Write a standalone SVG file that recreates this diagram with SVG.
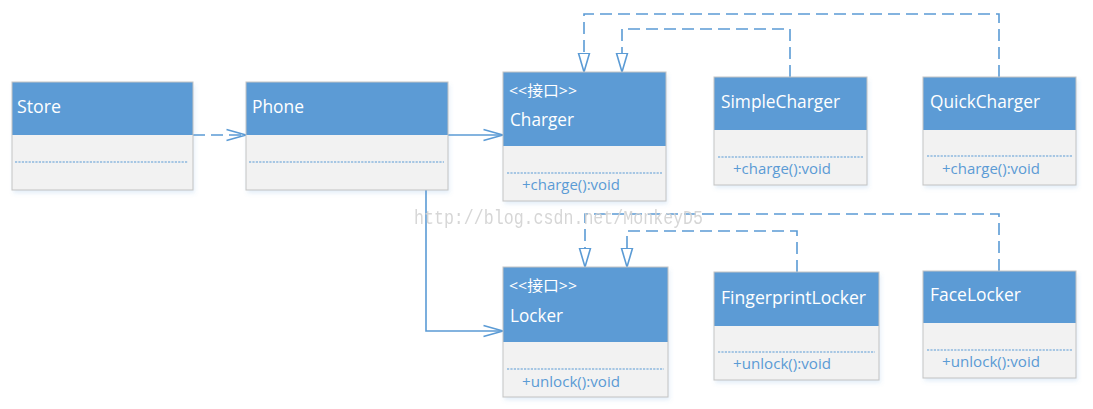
<svg xmlns="http://www.w3.org/2000/svg" width="1093" height="409" viewBox="0 0 1093 409">
<style>
  .hdr { fill: #5B9BD5; }
  .body { fill: #F2F2F2; }
  .frame { fill: none; stroke: #C3C3C3; stroke-width: 1; }
  .name { font-family: "Open Sans", "Noto Sans", "Noto Sans CJK SC", sans-serif; font-size: 18px; fill: #FFFFFF; }
  .stereo { font-family: "Open Sans", "Noto Sans CJK SC", sans-serif; font-size: 15px; fill: #FFFFFF; }
  .method { font-family: "Open Sans", "Noto Sans", sans-serif; font-size: 15px; fill: #5B9BD5; }
  .div { stroke: #5B9BD5; stroke-width: 1; stroke-dasharray: 2.2 1.2; fill: none; }
  .real { stroke: #5B9BD5; stroke-width: 1.6; fill: none; stroke-dasharray: 12 6; marker-end: url(#tri); }
  .dep { stroke: #5B9BD5; stroke-width: 1.6; fill: none; stroke-dasharray: 12 6; marker-end: url(#open); }
  .assoc { stroke: #5B9BD5; stroke-width: 1.6; fill: none; marker-end: url(#open); }
  .wm { font-family: "Liberation Mono", monospace; font-size: 21px; fill: #D2D2D2; opacity: 0.9; }
</style>
<defs>
  <filter id="sh" x="-10%" y="-10%" width="125%" height="130%">
    <feDropShadow dx="1.5" dy="3" stdDeviation="2" flood-color="#5B9BD5" flood-opacity="0.18"/>
  </filter>
  <marker id="tri" markerUnits="userSpaceOnUse" markerWidth="22" markerHeight="14" refX="19.5" refY="6" orient="auto" viewBox="0 0 22 12">
    <path d="M0.8,0.5 L19.5,6 L0.8,11.5 Z" fill="#FFFFFF" stroke="#5B9BD5" stroke-width="1.6" stroke-linejoin="miter"/>
  </marker>
  <marker id="open" markerUnits="userSpaceOnUse" markerWidth="22" markerHeight="14" refX="20" refY="6" orient="auto" viewBox="0 0 22 12">
    <path d="M0.5,0.5 L20,6 L0.5,11.5" fill="none" stroke="#5B9BD5" stroke-width="1.6"/>
  </marker>
</defs>
<rect width="1093" height="409" fill="#FFFFFF"/>

<g id="connectors">
  <path class="real" d="M999,77 V14 H584 V72"/>
  <path class="real" d="M790,77 V29 H622 V72"/>
  <path class="real" d="M999,271 V214 H585 V267"/>
  <path class="real" d="M797,272 V231 H627 V267"/>
  <path class="dep" d="M193,135 H246"/>
  <path class="assoc" d="M448,135 H503"/>
  <path class="assoc" d="M426,190 V331 H503"/>
</g>

<g id="Store">
  <g filter="url(#sh)">
    <rect class="body" x="12" y="82" width="181" height="108"/>
    <rect class="hdr" x="12" y="82" width="181" height="53"/>
  </g>
  <rect class="frame" x="12" y="82" width="181" height="108"/>
  <line class="div" x1="15" y1="162" x2="188" y2="162"/>
  <text class="name" x="17" y="113" textLength="44" lengthAdjust="spacingAndGlyphs">Store</text>
</g>

<g id="Phone">
  <g filter="url(#sh)">
    <rect class="body" x="246" y="82" width="202" height="108"/>
    <rect class="hdr" x="246" y="82" width="202" height="53"/>
  </g>
  <rect class="frame" x="246" y="82" width="202" height="108"/>
  <line class="div" x1="249" y1="162" x2="444" y2="162"/>
  <text class="name" x="252" y="113" textLength="52" lengthAdjust="spacingAndGlyphs">Phone</text>
</g>

<g id="Charger">
  <g filter="url(#sh)">
    <rect class="body" x="503" y="72" width="163" height="129"/>
    <rect class="hdr" x="503" y="72" width="163" height="74"/>
  </g>
  <rect class="frame" x="503" y="72" width="163" height="129"/>
  <text class="stereo" x="509" y="96" textLength="68" lengthAdjust="spacingAndGlyphs">&lt;&lt;接口&gt;&gt;</text>
  <text class="name" x="510" y="126" textLength="64" lengthAdjust="spacingAndGlyphs">Charger</text>
  <line class="div" x1="507" y1="173" x2="662" y2="173"/>
  <text class="method" x="522" y="190" textLength="98" lengthAdjust="spacingAndGlyphs">+charge():void</text>
</g>

<g id="SimpleCharger">
  <g filter="url(#sh)">
    <rect class="body" x="714" y="77" width="153" height="108"/>
    <rect class="hdr" x="714" y="77" width="153" height="53"/>
  </g>
  <rect class="frame" x="714" y="77" width="153" height="108"/>
  <text class="name" x="721" y="108" textLength="119" lengthAdjust="spacingAndGlyphs">SimpleCharger</text>
  <line class="div" x1="718" y1="157" x2="863" y2="157"/>
  <text class="method" x="733" y="174" textLength="98" lengthAdjust="spacingAndGlyphs">+charge():void</text>
</g>

<g id="QuickCharger">
  <g filter="url(#sh)">
    <rect class="body" x="923" y="77" width="153" height="108"/>
    <rect class="hdr" x="923" y="77" width="153" height="53"/>
  </g>
  <rect class="frame" x="923" y="77" width="153" height="108"/>
  <text class="name" x="930" y="108" textLength="110" lengthAdjust="spacingAndGlyphs">QuickCharger</text>
  <line class="div" x1="927" y1="156" x2="1072" y2="156"/>
  <text class="method" x="942" y="174" textLength="98" lengthAdjust="spacingAndGlyphs">+charge():void</text>
</g>

<g id="Locker">
  <g filter="url(#sh)">
    <rect class="body" x="503" y="267" width="165" height="130"/>
    <rect class="hdr" x="503" y="267" width="165" height="75"/>
  </g>
  <rect class="frame" x="503" y="267" width="165" height="130"/>
  <text class="stereo" x="509" y="291" textLength="68" lengthAdjust="spacingAndGlyphs">&lt;&lt;接口&gt;&gt;</text>
  <text class="name" x="510" y="322" textLength="53" lengthAdjust="spacingAndGlyphs">Locker</text>
  <line class="div" x1="507" y1="369" x2="664" y2="369"/>
  <text class="method" x="522" y="387" textLength="98" lengthAdjust="spacingAndGlyphs">+unlock():void</text>
</g>

<g id="FingerprintLocker">
  <g filter="url(#sh)">
    <rect class="body" x="714" y="272" width="165" height="108"/>
    <rect class="hdr" x="714" y="272" width="165" height="54"/>
  </g>
  <rect class="frame" x="714" y="272" width="165" height="108"/>
  <text class="name" x="721" y="304" textLength="145" lengthAdjust="spacingAndGlyphs">FingerprintLocker</text>
  <line class="div" x1="718" y1="352" x2="875" y2="352"/>
  <text class="method" x="733" y="369" textLength="98" lengthAdjust="spacingAndGlyphs">+unlock():void</text>
</g>

<g id="FaceLocker">
  <g filter="url(#sh)">
    <rect class="body" x="923" y="271" width="153" height="107"/>
    <rect class="hdr" x="923" y="271" width="153" height="52"/>
  </g>
  <rect class="frame" x="923" y="271" width="153" height="107"/>
  <text class="name" x="930" y="301" textLength="91" lengthAdjust="spacingAndGlyphs">FaceLocker</text>
  <line class="div" x1="927" y1="350" x2="1072" y2="350"/>
  <text class="method" x="942" y="367" textLength="98" lengthAdjust="spacingAndGlyphs">+unlock():void</text>
</g>

<text class="wm" x="414" y="224" textLength="289" lengthAdjust="spacingAndGlyphs">http://blog.csdn.net/MonkeyD5</text>
</svg>
